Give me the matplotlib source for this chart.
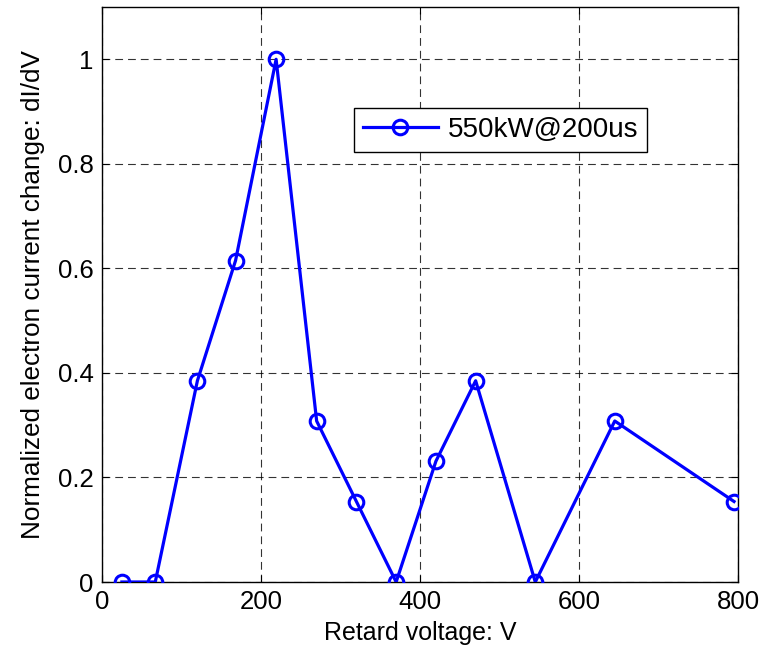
import matplotlib
matplotlib.use("Agg")
import matplotlib.pyplot as plt

# Data
retard_voltage = [25, 67, 120, 168, 219, 270, 320, 370, 420, 470, 545, 645, 795]
didv_norm = [0, 0, 0.385, 0.615, 1.0, 0.308, 0.154, 0, 0.231, 0.385, 0, 0.308, 0.154]
series_label = "550kW@200us"
x_ticks = [0, 200, 400, 600, 800]
y_ticks = [0, 0.2, 0.4, 0.6, 0.8, 1]
y_tick_labels = ["0", "0.2", "0.4", "0.6", "0.8", "1"]

plt.rcParams['font.family'] = ['Liberation Sans', 'DejaVu Sans']

fig = plt.figure(figsize=(7.67, 6.54), dpi=100)
ax = fig.add_axes([102/767, 1 - 582/654, (738-102)/767, (582-7)/654])

ax.plot(retard_voltage, didv_norm, color='#0000ff', linewidth=2.3,
        marker='o', markersize=10.5, markerfacecolor='none',
        markeredgewidth=2.2, markeredgecolor='#0000ff', label=series_label,
        zorder=3)

ax.set_xlim(0, 800)
ax.set_ylim(0, 1.1)
ax.set_xticks(x_ticks)
ax.set_yticks(y_ticks)
ax.set_yticklabels(y_tick_labels)
ax.tick_params(direction='in', top=True, right=True, labelsize=18.5,
               length=5, width=0.8, pad=6)
ax.grid(True, color='k', linestyle=(0, (7, 4.5)), linewidth=0.8, alpha=0.8)
for s in ax.spines.values():
    s.set_linewidth(1.0)
    s.set_color('k')

ax.set_xlabel("Retard voltage: V", fontsize=18, labelpad=5)
ax.set_ylabel("Normalized electron current change: dI/dV", fontsize=18.8, labelpad=9)

leg = ax.legend(loc='upper left', bbox_to_anchor=(0.396, 0.824), fontsize=20,
                frameon=True, fancybox=False, edgecolor='k', framealpha=1,
                handlelength=2.7, handletextpad=0.35, borderpad=0.32,
                borderaxespad=0)
leg.get_frame().set_linewidth(1.0)

fig.savefig("out.png", dpi=100)
